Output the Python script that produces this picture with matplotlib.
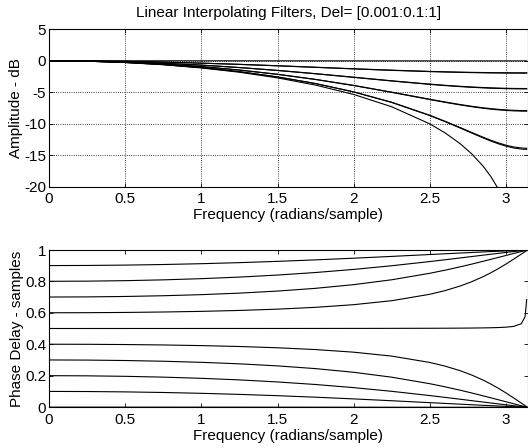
import matplotlib
matplotlib.use("Agg")
import matplotlib.pyplot as plt

plt.rcParams['font.family'] = ['Liberation Sans', 'DejaVu Sans']
plt.rcParams['font.size'] = 11

# frequency points (radians/sample) read along the x axis
freq = [0, 0.25, 0.5, 0.75, 1.0, 1.25, 1.5, 1.75, 2.0, 2.25, 2.5, 2.6, 2.7, 2.775,
        2.85, 2.9, 2.95, 3.0, 3.05, 3.1, 3.125, 3.1355]

# amplitude (dB), one list per fractional delay
amp_001 = [0, -0.0003, -0.0011, -0.0023, -0.0040, -0.0059, -0.0081, -0.0102, -0.0123,
           -0.0141, -0.0156, -0.0161, -0.0165, -0.0168, -0.0170, -0.0171, -0.0172,
           -0.0173, -0.0173, -0.0174, -0.0174, -0.0174]
amp_101 = [0, -0.0246, -0.0976, -0.2169, -0.3786, -0.5766, -0.8027, -1.0456, -1.2911,
           -1.5223, -1.7204, -1.7862, -1.8427, -1.8784, -1.9080, -1.9241, -1.9373,
           -1.9475, -1.9548, -1.9589, -1.9598, -1.9600]
amp_201 = [0, -0.0436, -0.1742, -0.3914, -0.6938, -1.0786, -1.5396, -2.0652, -2.6349,
           -3.2145, -3.7523, -3.9408, -4.1070, -4.2142, -4.3043, -4.3541, -4.3951,
           -4.4271, -4.4496, -4.4626, -4.4655, -4.4659]
amp_301 = [0, -0.0572, -0.2297, -0.5203, -0.9336, -1.4759, -2.1540, -2.9740, -3.9352,
           -5.0187, -6.1604, -6.6030, -7.0165, -7.2963, -7.5408, -7.6795, -7.7960,
           -7.8883, -7.9542, -7.9923, -8.0007, -8.0021]
amp_401 = [0, -0.0654, -0.2632, -0.5993, -1.0837, -1.7322, -2.5681, -3.6253, -4.9527,
           -6.6188, -8.7050, -9.6676, -10.691, -11.480, -12.256, -12.745, -13.187,
           -13.565, -13.849, -14.021, -14.059, -14.066]
amp_501 = [0, -0.0680, -0.2743, -0.6256, -1.1342, -1.8200, -2.7134, -3.8628, -5.3472,
           -7.3067, -10.0246, -11.453, -13.1905, -14.785, -16.7553, -18.379, -20.382,
           -23.003, -26.8, -33.6, -41.5, -48.7]
amp_601 = [0, -0.0652, -0.2628, -0.5983, -1.0817, -1.7287, -2.5623, -3.6159, -4.9374,
           -6.5929, -8.6589, -9.6083, -10.614, -11.386, -12.143, -12.618, -13.046,
           -13.410, -13.684, -13.849, -13.886, -13.892]
amp_701 = [0, -0.0570, -0.2288, -0.5182, -0.9297, -1.4692, -2.1435, -2.9578, -3.9110,
           -4.9829, -6.1090, -6.5444, -6.9504, -7.2248, -7.4642, -7.6000, -7.7139,
           -7.8042, -7.8685, -7.9057, -7.9138, -7.9152]
amp_801 = [0, -0.0433, -0.1729, -0.3883, -0.6882, -1.0695, -1.5258, -2.0455, -2.6080,
           -3.1791, -3.7079, -3.8931, -4.0562, -4.1613, -4.2497, -4.2985, -4.3386,
           -4.3700, -4.3920, -4.4047, -4.4075, -4.4079]
amp_901 = [0, -0.0242, -0.0959, -0.2130, -0.3716, -0.5658, -0.7872, -1.0248, -1.2647,
           -1.4903, -1.6833, -1.7475, -1.8025, -1.8372, -1.8659, -1.8817, -1.8945,
           -1.9045, -1.9115, -1.9155, -1.9163, -1.9165]

# phase delay (samples), one list per fractional delay
pd_001 = [0.001, 0.00099, 0.00096, 0.00091, 0.00084, 0.00076, 0.00067, 0.00056, 0.00045,
          0.00035, 0.00024, 0.0002, 0.00016, 0.00013, 0.0001, 0.00008, 0.00006,
          0.00005, 0.00003, 0.00001, 0.000005, 0.000002]
pd_101 = [0.101, 0.10025, 0.09798, 0.09420, 0.08889, 0.08208, 0.07382, 0.06419, 0.05338,
          0.04168, 0.02950, 0.02461, 0.01978, 0.01620, 0.01269, 0.01040, 0.00816,
          0.00595, 0.00379, 0.00170, 0.00067, 0.00025]
pd_201 = [0.201, 0.20000, 0.19695, 0.19176, 0.18424, 0.17414, 0.16115, 0.14490, 0.12507,
          0.10152, 0.07455, 0.06301, 0.05121, 0.04227, 0.03333, 0.02740, 0.02155,
          0.01575, 0.01006, 0.00451, 0.00179, 0.00065]
pd_301 = [0.301, 0.30012, 0.29744, 0.29280, 0.28590, 0.27630, 0.26329, 0.24587, 0.22256,
          0.19136, 0.14994, 0.13010, 0.10841, 0.09103, 0.07286, 0.06043, 0.04787,
          0.03518, 0.02257, 0.01013, 0.00402, 0.00147]
pd_401 = [0.401, 0.40050, 0.39897, 0.39630, 0.39225, 0.38649, 0.37840, 0.36698, 0.35044,
          0.32542, 0.28504, 0.26172, 0.23228, 0.20511, 0.17274, 0.14799, 0.12077,
          0.09104, 0.05956, 0.02705, 0.01075, 0.00394]
pd_501 = [0.501, 0.50100, 0.50102, 0.50105, 0.50109, 0.50116, 0.50124, 0.50137, 0.50156,
          0.50186, 0.50241, 0.50277, 0.50330, 0.50389, 0.50481, 0.50568, 0.50708,
          0.50940, 0.51430, 0.53093, 0.57570, 0.68540]
pd_601 = [0.601, 0.60150, 0.60307, 0.60580, 0.60991, 0.61578, 0.62400, 0.63561, 0.65240,
          0.67774, 0.71849, 0.74193, 0.77140, 0.79848, 0.83061, 0.85507, 0.88184,
          0.91106, 0.94187, 0.97361, 0.98952, 0.99616]
pd_701 = [0.701, 0.70188, 0.70458, 0.70925, 0.71618, 0.72583, 0.73889, 0.75636, 0.77969,
          0.81083, 0.85203, 0.87170, 0.89317, 0.91035, 0.92828, 0.94053, 0.95286,
          0.96540, 0.97780, 0.99003, 0.99605, 0.99855]
pd_801 = [0.801, 0.80200, 0.80504, 0.81023, 0.81773, 0.82780, 0.84074, 0.85690, 0.87659,
          0.89993, 0.92658, 0.93796, 0.94960, 0.95841, 0.96721, 0.97304, 0.97875,
          0.98451, 0.99010, 0.99557, 0.99825, 0.99936]
pd_901 = [0.901, 0.90174, 0.90398, 0.90772, 0.91294, 0.91965, 0.92778, 0.93724, 0.94784,
          0.95930, 0.97121, 0.97598, 0.98071, 0.98420, 0.98762, 0.98986, 0.99200,
          0.99420, 0.99630, 0.99834, 0.99934, 0.99976]

amps = [amp_001, amp_101, amp_201, amp_301, amp_401,
        amp_501, amp_601, amp_701, amp_801, amp_901]
delays = [pd_001, pd_101, pd_201, pd_301, pd_401,
          pd_501, pd_601, pd_701, pd_801, pd_901]

xticks = [0, 0.5, 1, 1.5, 2, 2.5, 3]
xtick_labels = ['0', '0.5', '1', '1.5', '2', '2.5', '3']
amp_ticks = [-20, -15, -10, -5, 0, 5]
amp_labels = ['-20', '-15', '-10', '-5', '0', '5']
pd_ticks = [0, 0.2, 0.4, 0.6, 0.8, 1]
pd_labels = ['0', '0.2', '0.4', '0.6', '0.8', '1']

fig = plt.figure(figsize=(5.28, 4.48), dpi=100)
ax1 = fig.add_axes([49 / 528, 1 - 186.7 / 448, 478.6 / 528, 157.4 / 448])
ax2 = fig.add_axes([49 / 528, 1 - 407.3 / 448, 478.6 / 528, 157.3 / 448])

for a in amps:
    ax1.plot(freq, a, color='black', lw=0.8)
for p in delays:
    ax2.plot(freq, p, color='black', lw=0.8)

for ax in (ax1, ax2):
    ax.set_xlim(0, 3.14159)
    ax.set_xticks(xticks)
    ax.set_xticklabels(xtick_labels)
    ax.tick_params(direction='in', top=True, right=True, length=3,
                   width=0.6, labelsize=11, pad=4)
    ax.tick_params(axis='y', pad=2)
    for s in ax.spines.values():
        s.set_linewidth(0.8)
    ax.set_xlabel('Frequency (radians/sample)', labelpad=1.5)

ax1.set_ylim(-20, 5)
ax1.set_yticks(amp_ticks)
ax1.set_yticklabels(amp_labels)
ax1.grid(True, linestyle=':', color='black', linewidth=0.6)
ax1.set_ylabel('Amplitude - dB', labelpad=1)
ax1.set_title('Linear Interpolating Filters, Del= [0.001:0.1:1]', fontsize=11, pad=9)

ax2.set_ylim(0, 1)
ax2.set_yticks(pd_ticks)
ax2.set_yticklabels(pd_labels)
ax2.set_ylabel('Phase Delay - samples', labelpad=1)

fig.savefig('out.png', dpi=100)
